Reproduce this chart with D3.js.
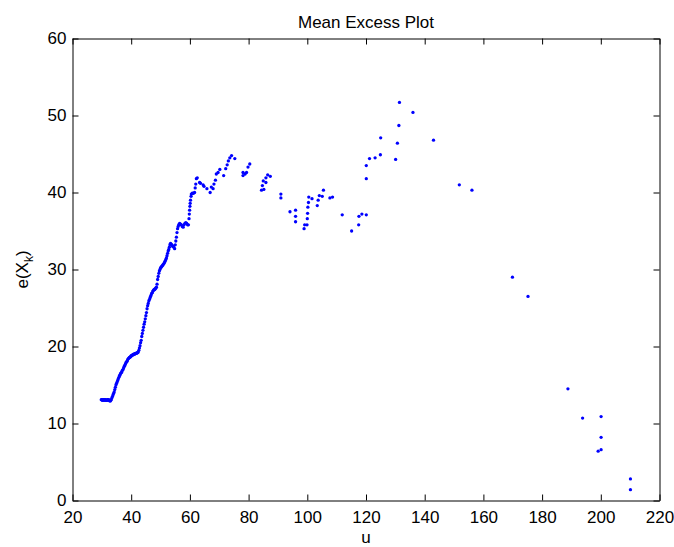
<!DOCTYPE html>
<html><head><meta charset="utf-8">
<script src="https://cdn.jsdelivr.net/npm/d3@7"></script>
<style>
body{margin:0;background:#fff}
text{font-family:"Liberation Sans",Arial,Helvetica,sans-serif;fill:#000}
</style></head>
<body><svg id="c" width="674" height="547"></svg>
<script>
const chartTitle = "Mean Excess Plot";
const xLabel = "u";
const xTicks = [20,40,60,80,100,120,140,160,180,200,220];
const yTicks = [0,10,20,30,40,50,60];
// [threshold u, mean excess e(X_k)]
const meanExcessPoints = [
[29.8,13.1],[30.0,13.1],[30.2,13.0],[30.4,13.1],[30.6,13.1],[30.8,13.0],[31.0,13.1],[31.2,13.1],[31.4,13.0],[31.6,13.0],
[31.8,13.1],[32.0,13.1],[32.2,13.0],[32.4,13.1],[32.6,13.0],[32.8,12.9],[33.0,13.0],[33.2,13.1],
[33.4,13.3],[33.6,13.5],[33.8,13.7],[34.0,13.9],[34.2,14.1],[34.4,14.4],[34.6,14.7],[34.8,15.0],[35.0,15.2],[35.2,15.4],
[35.4,15.6],[35.6,15.8],[35.8,16.0],[36.0,16.2],[36.2,16.3],[36.4,16.5],[36.6,16.6],[36.8,16.7],[37.0,16.9],[37.2,17.0],
[37.4,17.2],[37.6,17.4],[37.8,17.5],[38.0,17.7],[38.2,17.9],[38.4,18.0],[38.6,18.1],[38.8,18.3],[39.0,18.4],[39.2,18.5],
[39.4,18.6],[39.6,18.6],[39.8,18.7],[40.0,18.8],[40.2,18.8],[40.4,18.9],[40.6,18.9],[40.8,19.0],[41.0,19.0],[41.2,19.0],
[41.4,19.1],[41.6,19.1],[41.8,19.1],[42.0,19.2],[42.2,19.2],[42.4,19.3],[42.6,19.5],[42.8,19.8],[43.0,20.1],[43.2,20.5],
[43.4,20.8],[43.6,21.3],[43.8,21.7],[44.0,22.1],[44.2,22.5],[44.4,22.9],[44.6,23.2],[44.8,23.6],[45.0,24.0],[45.2,24.4],
[45.4,24.9],[45.6,25.3],[45.8,25.6],[46.0,25.9],[46.2,26.1],[46.4,26.3],[46.6,26.5],[46.8,26.7],[47.0,26.9],[47.2,27.0],
[47.4,27.2],[47.6,27.3],[47.8,27.4],[48.0,27.4],[48.2,27.5],[48.4,27.6],[48.6,27.7],[48.8,28.1],[49.0,28.7],[49.2,29.1],
[49.4,29.5],[49.6,29.8],[49.8,30.0],[50.0,30.2],[50.2,30.3],[50.4,30.4],[50.6,30.5],[50.8,30.6],[51.0,30.7],[51.2,30.8],
[51.4,31.0],[51.6,31.1],[51.8,31.3],[52.0,31.5],[52.2,31.8],[52.4,32.1],[52.6,32.4],[52.8,32.6],[53.0,32.9],[53.2,33.2],
[53.4,33.4],[53.6,33.3],[53.8,33.2],[54.0,33.1],[54.2,33.0],[54.5,32.9],[54.8,32.7],[55.0,33.2],[55.2,33.7],[55.4,34.2],
[55.6,34.8],[55.8,35.3],[56.0,35.6],[56.2,35.8],[56.5,36.0],[56.8,35.9],[57.1,35.8],[57.4,35.6],[57.7,35.5],[58.0,35.8],
[58.3,36.0],[58.6,36.1],[58.9,36.0],[59.2,35.8],[59.5,35.8],[59.7,36.6],[59.8,37.2],[59.9,37.7],[60.0,38.2],[60.1,38.6],
[60.2,39.0],[60.4,39.5],[60.5,39.8],[60.8,39.9],[61.2,39.9],[61.6,40.0],[61.8,40.6],[62.0,41.1],[62.2,41.8],[62.5,41.9],
[63.3,41.3],[63.6,41.2],[64.5,41.0],[64.8,40.8],[65.8,40.5],[66.9,40.0],[67.3,40.7],[67.9,40.5],[68.2,41.1],[68.7,41.6],
[69.0,42.4],[69.6,42.6],[70.2,43.0],[71.5,42.2],[72.2,43.1],[72.7,43.6],[73.1,44.1],[73.6,44.5],[74.2,44.8],[75.3,44.4],
[78.1,42.2],[78.1,42.6],[78.8,42.4],[79.3,42.6],[79.8,43.3],[80.4,43.7],
[84.4,40.3],[85.2,40.4],[84.7,40.9],[85.0,41.5],[85.9,41.3],[85.9,41.9],[86.5,42.3],[87.4,42.1],
[91.0,39.8],[91.0,39.3],[94.1,37.5],[96.0,37.7],[96.0,36.9],[96.0,36.2],[98.9,35.3],[99.1,35.8],[99.9,35.8],
[100.0,36.6],[100.1,37.3],[100.2,38.1],[100.4,38.7],[100.5,39.4],[101.6,39.2],[103.4,38.3],[103.7,39.0],[104.1,39.6],
[105.1,39.5],[105.5,40.3],[107.7,39.3],[108.6,39.4],[111.9,37.1],[115.1,35.0],[117.5,35.8],[117.6,36.9],[118.6,37.2],
[120.1,37.1],[120.1,41.8],[120.1,43.5],[121.2,44.4],[123.1,44.5],[124.9,44.9],[125.0,47.1],[130.1,44.3],[130.7,46.4],
[131.2,48.7],[131.4,51.7],[136.0,50.4],[143.0,46.8],[151.8,41.0],[156.1,40.3],[169.9,29.0],[175.2,26.5],[188.8,14.5],
[193.8,10.7],[200.1,10.9],[200.1,8.2],[200.1,6.6],[199.1,6.4],[210.1,2.8],[210.1,1.4]
];

const svg = d3.select("#c");
const W = 674, H = 547;
const plotLeft = 72.5, plotRight = 659.5, plotTop = 38.5, plotBottom = 500.5;
const x = d3.scaleLinear().domain([20,220]).range([plotLeft,plotRight]);
const y = d3.scaleLinear().domain([0,60]).range([plotBottom,plotTop]);

svg.append("rect").attr("width",W).attr("height",H).attr("fill","#fff");

// points
svg.append("g").selectAll("circle").data(meanExcessPoints).join("circle")
  .attr("cx",d=>x(d[0])).attr("cy",d=>y(d[1])).attr("r",1.65).attr("fill","#0000ff");

function styleAxis(g){
  g.selectAll("path.domain").attr("stroke","#000").attr("stroke-width",1);
  g.selectAll(".tick line").attr("stroke","#000").attr("stroke-width",1);
  g.selectAll("text").attr("font-size","17px").attr("font-family","Liberation Sans, Arial, sans-serif").attr("fill","#000");
}
svg.append("g").attr("transform",`translate(0,${plotBottom})`)
  .call(d3.axisBottom(x).tickValues(xTicks).tickSize(-6).tickSizeOuter(0).tickPadding(10).tickFormat(d3.format("d")))
  .call(styleAxis);
svg.append("g").attr("transform",`translate(0,${plotTop})`)
  .call(d3.axisTop(x).tickValues(xTicks).tickSize(-6).tickSizeOuter(0).tickFormat(""))
  .call(styleAxis);
svg.append("g").attr("transform",`translate(${plotLeft},0)`)
  .call(d3.axisLeft(y).tickValues(yTicks).tickSize(-6).tickSizeOuter(0).tickPadding(6).tickFormat(d3.format("d")))
  .call(styleAxis);
svg.append("g").attr("transform",`translate(${plotRight},0)`)
  .call(d3.axisRight(y).tickValues(yTicks).tickSize(-6).tickSizeOuter(0).tickFormat(""))
  .call(styleAxis);

svg.append("text").attr("x",(plotLeft+plotRight)/2).attr("y",28).attr("text-anchor","middle")
  .attr("font-size","17px").text(chartTitle);
svg.append("text").attr("x",(plotLeft+plotRight)/2).attr("y",543).attr("text-anchor","middle")
  .attr("font-size","17px").text(xLabel);
const yl = svg.append("text").attr("transform",`translate(28,${(plotTop+plotBottom)/2}) rotate(-90)`)
  .attr("text-anchor","middle").attr("font-size","17px");
yl.append("tspan").text("e(X");
yl.append("tspan").attr("font-size","12px").attr("dy",5).text("k");
yl.append("tspan").attr("dy",-5).text(")");
</script>
</body></html>
